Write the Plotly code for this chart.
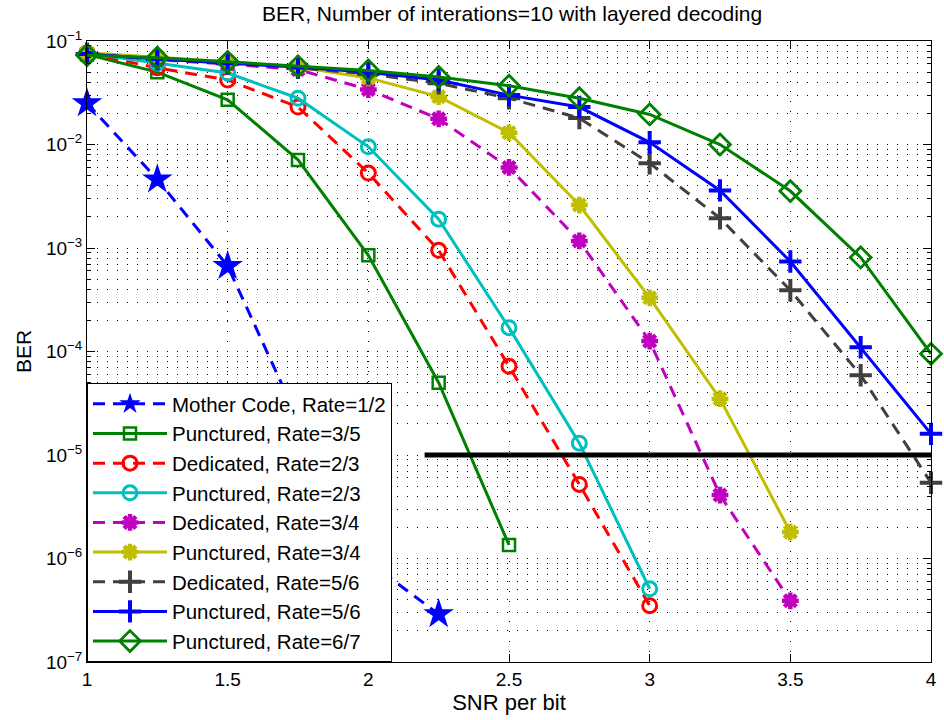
import plotly.graph_objects as go

snr = [1.0, 1.25, 1.5, 1.75, 2.0, 2.25, 2.5, 2.75, 3.0, 3.25, 3.5, 3.75, 4.0]

mother_12 = [2.5e-2, 4.6e-3, 6.7e-4, 2.2e-5, 9.3e-7, 2.9e-7]
punct_35 = [7.4e-2, 5.0e-2, 2.7e-2, 7.1e-3, 8.5e-4, 5.0e-5, 1.35e-6]
ded_23 = [7.6e-2, 5.5e-2, 4.2e-2, 2.3e-2, 5.3e-3, 9.5e-4, 7.2e-5, 5.2e-6, 3.5e-7]
punct_23 = [7.6e-2, 6.1e-2, 4.9e-2, 2.8e-2, 9.5e-3, 1.9e-3, 1.7e-4, 1.3e-5, 5.1e-7]
ded_34 = [7.7e-2, 6.6e-2, 6.0e-2, 5.3e-2, 3.4e-2, 1.77e-2, 6.0e-3, 1.17e-3, 1.26e-4, 4.1e-6, 3.9e-7]
punct_34 = [7.7e-2, 7.0e-2, 6.3e-2, 5.6e-2, 4.4e-2, 2.9e-2, 1.3e-2, 2.6e-3, 3.3e-4, 3.5e-5, 1.8e-6]
ded_56 = [7.5e-2, 6.7e-2, 6.1e-2, 5.5e-2, 4.8e-2, 3.9e-2, 2.8e-2, 1.8e-2, 6.6e-3, 1.94e-3, 3.9e-4, 5.9e-5, 5.4e-6]
punct_56 = [7.5e-2, 6.7e-2, 6.1e-2, 5.6e-2, 5.0e-2, 4.2e-2, 3.0e-2, 2.3e-2, 1.05e-2, 3.6e-3, 7.4e-4, 1.1e-4, 1.6e-5]
punct_67 = [7.3e-2, 6.9e-2, 6.3e-2, 5.7e-2, 5.2e-2, 4.5e-2, 3.7e-2, 2.8e-2, 1.95e-2, 1.0e-2, 3.55e-3, 8.1e-4, 9.5e-5]

ref_x = [2.2, 4.0]
ref_y = [1e-5, 1e-5]

ytick_vals = [1e-7, 1e-6, 1e-5, 1e-4, 1e-3, 1e-2, 1e-1]
ytick_text = ["10<sup>\u22127</sup>", "10<sup>\u22126</sup>", "10<sup>\u22125</sup>",
              "10<sup>\u22124</sup>", "10<sup>\u22123</sup>", "10<sup>\u22122</sup>",
              "10<sup>\u22121</sup>"]
xtick_vals = [1, 1.5, 2, 2.5, 3, 3.5, 4]
xtick_text = ["1", "1.5", "2", "2.5", "3", "3.5", "4"]

DASH = "12px,8px"
series = [
    ("Mother Code, Rate=1/2", mother_12, "#0000FF", DASH, "star", 23, 0),
    ("Punctured, Rate=3/5", punct_35, "#008000", "solid", "square-open", 12, 2.5),
    ("Dedicated, Rate=2/3", ded_23, "#FF0000", DASH, "circle-open", 14, 3),
    ("Punctured, Rate=2/3", punct_23, "#00BFBF", "solid", "circle-open", 14, 3),
    ("Dedicated, Rate=3/4", ded_34, "#BF00BF", DASH, "asterisk-open", 14, 4.5),
    ("Punctured, Rate=3/4", punct_34, "#BFBF00", "solid", "asterisk-open", 14, 4.5),
    ("Dedicated, Rate=5/6", ded_56, "#404040", DASH, "cross-thin-open", 16, 4),
    ("Punctured, Rate=5/6", punct_56, "#0000FF", "solid", "cross-thin-open", 16, 4),
    ("Punctured, Rate=6/7", punct_67, "#008000", "solid", "diamond-open", 16, 2.8),
]

fig = go.Figure()
for name, ys, col, dash, sym, size, mlw in series:
    fig.add_trace(go.Scatter(
        x=snr[:len(ys)], y=ys, name=name, mode="lines+markers",
        line=dict(color=col, width=3, dash=dash),
        marker=dict(symbol=sym, size=size, color=col,
                    line=dict(color=col, width=mlw)),
        cliponaxis=False,
    ))

fig.add_trace(go.Scatter(
    x=ref_x, y=ref_y, mode="lines", showlegend=False,
    line=dict(color="black", width=5), cliponaxis=True,
))

FONT = "Liberation Sans, Arial, sans-serif"
GD = "1px,9px"

fig.update_layout(
    width=944, height=720,
    margin=dict(l=87, r=7, t=41, b=58),
    paper_bgcolor="white", plot_bgcolor="white",
    font=dict(family=FONT, size=19, color="black"),
    title=dict(text="BER, Number of interations=10 with layered decoding",
               x=0.5425, xanchor="center", y=0.981, yanchor="middle",
               font=dict(size=21)),
    legend=dict(x=0, y=0, xanchor="left", yanchor="bottom",
                bgcolor="white", bordercolor="black", borderwidth=1,
                font=dict(size=20.5), itemwidth=74, tracegroupgap=0),
    showlegend=True,
)

fig.update_xaxes(
    range=[1, 4], tickvals=xtick_vals, ticktext=xtick_text,
    ticks="inside", ticklen=8, tickcolor="black", tickwidth=1,
    showline=True, linecolor="black", linewidth=1, mirror="ticks",
    zeroline=False,
    title=dict(text="SNR per bit", standoff=3, font=dict(size=22)),
    showgrid=True, gridcolor="#000000", gridwidth=1, griddash=GD,
)
fig.update_yaxes(
    type="log", range=[-7, -1], tickvals=ytick_vals, ticktext=ytick_text,
    ticks="inside", ticklen=8, tickcolor="black", tickwidth=1,
    showline=True, linecolor="black", linewidth=1, mirror="ticks",
    zeroline=False,
    title=dict(text="BER", standoff=8, font=dict(size=21)),
    minor=dict(dtick="D1", ticks="inside", ticklen=4, tickcolor="black",
               showgrid=True, gridcolor="#000000", gridwidth=1, griddash=GD),
    showgrid=True, gridcolor="#000000", gridwidth=1, griddash=GD,
)

fig.write_html("out.html")
